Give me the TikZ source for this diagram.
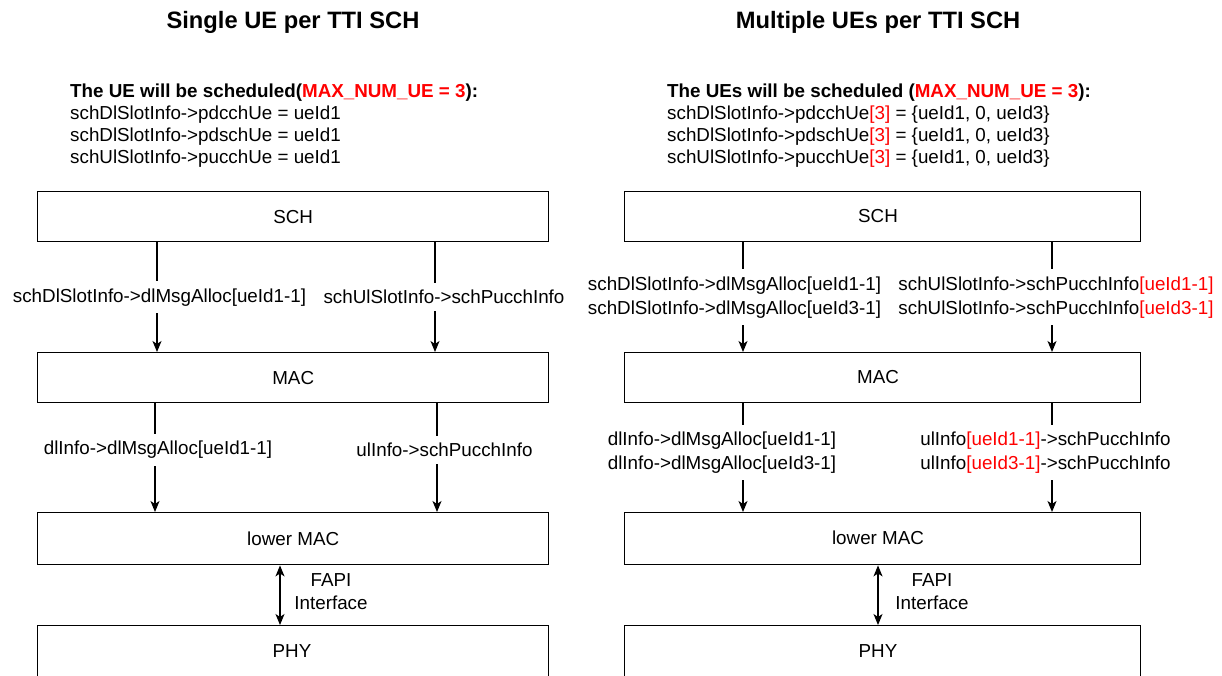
\documentclass[tikz,border=0pt]{standalone}
\usepackage{fontspec}
\setmainfont{Liberation Sans}
\usetikzlibrary{arrows.meta}
\definecolor{hl}{RGB}{255,0,0}
\begin{document}
\begin{tikzpicture}[x=1pt,y=-1pt,
  every node/.style={font=\fontsize{18.8}{24}\selectfont, inner sep=0pt},
  heading/.style={font=\fontsize{23.7}{28}\selectfont\bfseries},
  infoline/.style={anchor=base west},
  layer/.style={draw, line width=1.4pt, anchor=north west, minimum height=50pt},
  leftlayer/.style={layer, minimum width=511pt},
  rightlayer/.style={layer, minimum width=516pt},
  conn/.style={line width=1.2pt, -{Stealth[length=11pt,width=9pt,inset=3pt]}},
  duplex/.style={line width=1.2pt, {Stealth[length=11pt,width=9pt,inset=3pt]}-{Stealth[length=11pt,width=9pt,inset=3pt]}},
  lbl/.style={fill=white, inner xsep=1pt, inner ysep=7pt, align=center},
  fapi/.style={align=center, font=\fontsize{18.8}{23}\selectfont}
]
\useasboundingbox (0,0) rectangle (1222,675);
\clip (0,0) rectangle (1222,675);
\fill[white] (0,0) rectangle (1222,675);

% ---------- single UE per TTI ----------
\node[heading] (titleL) at (293,22) {Single UE per TTI SCH};
\node[infoline] (infoL0) at (70,97) {\bfseries The UE will be scheduled(\textcolor{hl}{MAX\_NUM\_UE = 3}):};
\node[infoline] (infoL1) at (70,119) {schDlSlotInfo->pdcchUe = ueId1};
\node[infoline] (infoL2) at (70,141) {schDlSlotInfo->pdschUe = ueId1};
\node[infoline] (infoL3) at (70,163) {schUlSlotInfo->pucchUe = ueId1};

\node[leftlayer] (schL) at (37,191) {SCH};
\node[leftlayer] (macL) at (37,352) {MAC};
\node[leftlayer, minimum height=52pt] (lmacL) at (37,512) {lower MAC};
\node[leftlayer, minimum height=100pt] (phyL) at (37,625) {};
\node (phyLt) at (292,651) {PHY};

\coordinate (xa) at (157,0);
\coordinate (xb) at (435,0);
\coordinate (xc) at (155,0);
\coordinate (xd) at (437,0);
\coordinate (xe) at (280,0);

\draw[conn] (schL.south -| xa) -- node[lbl, xshift=2.5pt] {schDlSlotInfo->dlMsgAlloc[ueId1-1]} (macL.north -| xa);
\draw[conn] (schL.south -| xb) -- node[lbl, xshift=9pt] {schUlSlotInfo->schPucchInfo} (macL.north -| xb);
\draw[conn] (macL.south -| xc) -- node[lbl, pos=0.43, xshift=3pt] {dlInfo->dlMsgAlloc[ueId1-1]} (lmacL.north -| xc);
\draw[conn] (macL.south -| xd) -- node[lbl, pos=0.43, xshift=7.5pt] {ulInfo->schPucchInfo} (lmacL.north -| xd);
\draw[duplex] (lmacL.south -| xe) -- (phyL.north -| xe);
\node[fapi] (fapiL) at (331,592) {FAPI\\Interface};

% ---------- multiple UEs per TTI ----------
\node[heading] (titleR) at (878,22) {Multiple UEs per TTI SCH};
\node[infoline] (infoR0) at (667,97) {\bfseries The UEs will be scheduled (\textcolor{hl}{MAX\_NUM\_UE = 3}):};
\node[infoline] (infoR1) at (667,119) {schDlSlotInfo->pdcchUe\textcolor{hl}{[3]} = \{ueId1, 0, ueId3\}};
\node[infoline] (infoR2) at (667,141) {schDlSlotInfo->pdschUe\textcolor{hl}{[3]} = \{ueId1, 0, ueId3\}};
\node[infoline] (infoR3) at (667,163) {schUlSlotInfo->pucchUe\textcolor{hl}{[3]} = \{ueId1, 0, ueId3\}};

\node[rightlayer] (schR) at (624,191) {};
\node (schRt) at (878,216) {SCH};
\node[rightlayer] (macR) at (624,352) {};
\node (macRt) at (878,377) {MAC};
\node[rightlayer, minimum height=52pt] (lmacR) at (624,512) {};
\node (lmacRt) at (878,538) {lower MAC};
\node[rightlayer, minimum height=100pt] (phyR) at (624,625) {};
\node (phyRt) at (878,651) {PHY};

\coordinate (xf) at (743,0);
\coordinate (xg) at (1052,0);
\coordinate (xh) at (878,0);

\draw[conn] (schR.south -| xf) -- node[lbl, xshift=-8.5pt] {schDlSlotInfo->dlMsgAlloc[ueId1-1]\\schDlSlotInfo->dlMsgAlloc[ueId3-1]} (macR.north -| xf);
\draw[conn] (schR.south -| xg) -- node[lbl, xshift=4pt] {schUlSlotInfo->schPucchInfo\textcolor{hl}{[ueId1-1]}\\schUlSlotInfo->schPucchInfo\textcolor{hl}{[ueId3-1]}} (macR.north -| xg);
\draw[conn] (macR.south -| xf) -- node[lbl, pos=0.45, xshift=-21pt] {dlInfo->dlMsgAlloc[ueId1-1]\\dlInfo->dlMsgAlloc[ueId3-1]} (lmacR.north -| xf);
\draw[conn] (macR.south -| xg) -- node[lbl, pos=0.45, xshift=-6.5pt] {ulInfo\textcolor{hl}{[ueId1-1]}->schPucchInfo\\ulInfo\textcolor{hl}{[ueId3-1]}->schPucchInfo} (lmacR.north -| xg);
\draw[duplex] (lmacR.south -| xh) -- (phyR.north -| xh);
\node[fapi] (fapiR) at (932,592) {FAPI\\Interface};
\end{tikzpicture}
\end{document}
